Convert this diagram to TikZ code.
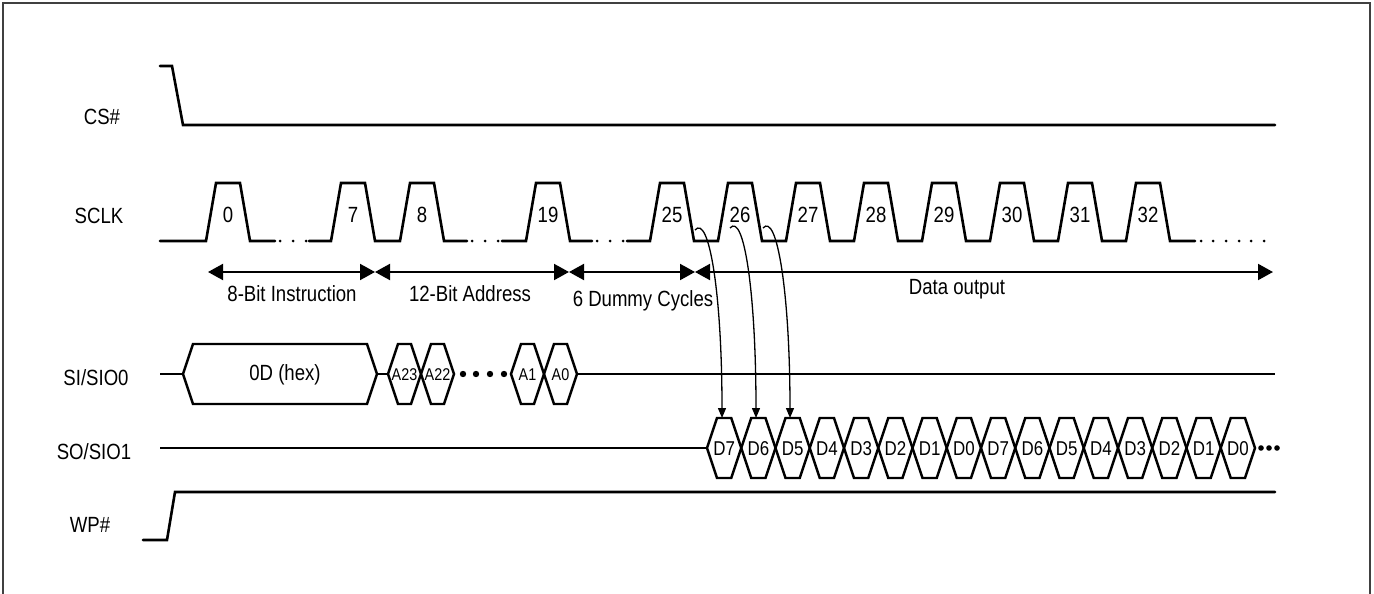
\documentclass[tikz,border=0pt]{standalone}
\usepackage{fontspec}
\setmainfont{Liberation Sans}[FakeStretch=0.845]
\usetikzlibrary{arrows.meta}
\begin{document}
\begin{tikzpicture}[x=1pt,y=-1pt,
  wave/.style={line width=2.6pt,line join=miter,line cap=round},
  bus/.style={line width=2.4pt,line join=miter},
  dim/.style={line width=2pt,{Triangle[length=15pt,width=16pt]}-{Triangle[length=15pt,width=16pt]}},
  curv/.style={line width=1.3pt,-{Triangle[length=10pt,width=8pt]}},
  lbl/.style={inner sep=0pt,font=\fontsize{22}{26}\selectfont},
  num/.style={inner sep=0pt,font=\fontsize{22}{26}\selectfont},
  dlbl/.style={inner sep=0pt,font=\fontsize{20}{24}\selectfont},
  albl/.style={inner sep=0pt,font=\fontsize{17}{20}\selectfont},
  dot/.style={fill=black,draw=none}]
\useasboundingbox (0,0) rectangle (1374,594);
% frame
\draw[line width=1.6pt,draw=black!75] (3,600) -- (3,3) -- (1370,3) -- (1370,600);

% signal labels
\node[lbl] (lcs) at (102,117) {CS\#};
\node[lbl] (lsclk) at (99,216) {SCLK};
\node[lbl] (lsi) at (96,378) {SI/SIO0};
\node[lbl] (lso) at (94,452) {SO/SIO1};
\node[lbl] (lwp) at (90,525) {WP\#};

% CS#
\draw[wave] (160,66) -- (172,66) -- (183,125) -- (1275,125);
% WP#
\draw[wave] (143,540) -- (167,540) -- (175,492) -- (1275,492);

% SCLK
\draw[wave] (160,241) foreach \x in {206}{-- (\x,241) -- ++(10,-58) -- ++(24,0) -- ++(10,58)} -- (275,241);
\draw[wave] (309,241) foreach \x in {331,400}{-- (\x,241) -- ++(10,-58) -- ++(24,0) -- ++(10,58)} -- (467,241);
\draw[wave] (502,241) foreach \x in {526}{-- (\x,241) -- ++(10,-58) -- ++(24,0) -- ++(10,58)} -- (592,241);
\draw[wave] (627,241) foreach \x in {650,718,786,854,922,990,1058,1126}{-- (\x,241) -- ++(10,-58) -- ++(24,0) -- ++(10,58)} -- (1195,241);
\foreach \x in {280,293,306, 472,485,498, 597,610,623, 1201,1213,1226,1239,1251,1264}
  \fill[dot] (\x,241) circle (1.5pt);
% pulse numbers
\foreach \x/\t in {206/0,331/7,400/8,526/19}
  \node[num] (p\t) at (\x+22,215) {\t};
\foreach \t [count=\k from 0] in {25,26,27,28,29,30,31,32}
  \node[num] (p\t) at (650+68*\k+22,215) {\t};

% dimension arrows
\coordinate (a0) at (208,272);
\coordinate (a1) at (375,272);
\coordinate (a2) at (569,272);
\coordinate (a3) at (695,272);
\coordinate (a4) at (1273,272);
\draw[dim] (a0) -- (a1);
\draw[dim] (a1) -- (a2);
\draw[dim] (a2) -- (a3);
\draw[dim] (a3) -- (a4);
\node[lbl] (t1) at (292,294) {8-Bit Instruction};
\node[lbl] (t2) at (470,294) {12-Bit Address};
\node[lbl] (t3) at (643,301) {6 Dummy Cycles};
\node[lbl] (t4) at (957,289) {Data output};

% SI/SIO0
\draw[bus] (160,374) -- (183,374);
\draw[bus] (183,374) -- (193,344) -- (367,344) -- (377,374) -- (367,404) -- (193,404) -- cycle;
\node[lbl] (hex) at (285,375) {0D (hex)};
\draw[bus] (377,374) -- (388,374);
\foreach \a/\b/\t in {388/421/A23,421/454/A22,511/544/A1,544/577/A0}{
  \draw[bus] (\a,374) -- (\a+10,344) -- (\b-10,344) -- (\b,374) -- (\b-10,404) -- (\a+10,404) -- cycle;
  \node[albl] (n\t) at ({(\a+\b)/2},375) {\t};
}
\foreach \x in {463,476,490,504}
  \fill[dot] (\x,374) circle (3.2pt);
\draw[bus] (577,374) -- (1275,374);

% SO/SIO1
\draw[bus] (160,448) -- (707,448);
\foreach \t [count=\k from 0] in {D7,D6,D5,D4,D3,D2,D1,D0,D7,D6,D5,D4,D3,D2,D1,D0}{
  \pgfmathsetmacro{\a}{707+34.25*\k}
  \pgfmathsetmacro{\b}{707+34.25*(\k+1)}
  \draw[bus] (\a,448) -- (\a+10,418) -- (\b-10,418) -- (\b,448) -- (\b-10,478) -- (\a+10,478) -- cycle;
  \node[dlbl] (d\k) at ({(\a+\b)/2},449) {\t};
}
\foreach \x in {1261,1269,1277}
  \fill[dot] (\x,448) circle (2.8pt);

% curved arrows
\coordinate (c1) at (695,230);
\coordinate (c2) at (730,228);
\coordinate (c3) at (763,228);
\coordinate (e1) at (722,418);
\coordinate (e2) at (756,418);
\coordinate (e3) at (790,418);
\draw[curv] (c1) .. controls +(14,-16) and +(0,-125) .. (e1);
\draw[curv] (c2) .. controls +(14,-16) and +(0,-125) .. (e2);
\draw[curv] (c3) .. controls +(14,-16) and +(0,-125) .. (e3);
\end{tikzpicture}
\end{document}
